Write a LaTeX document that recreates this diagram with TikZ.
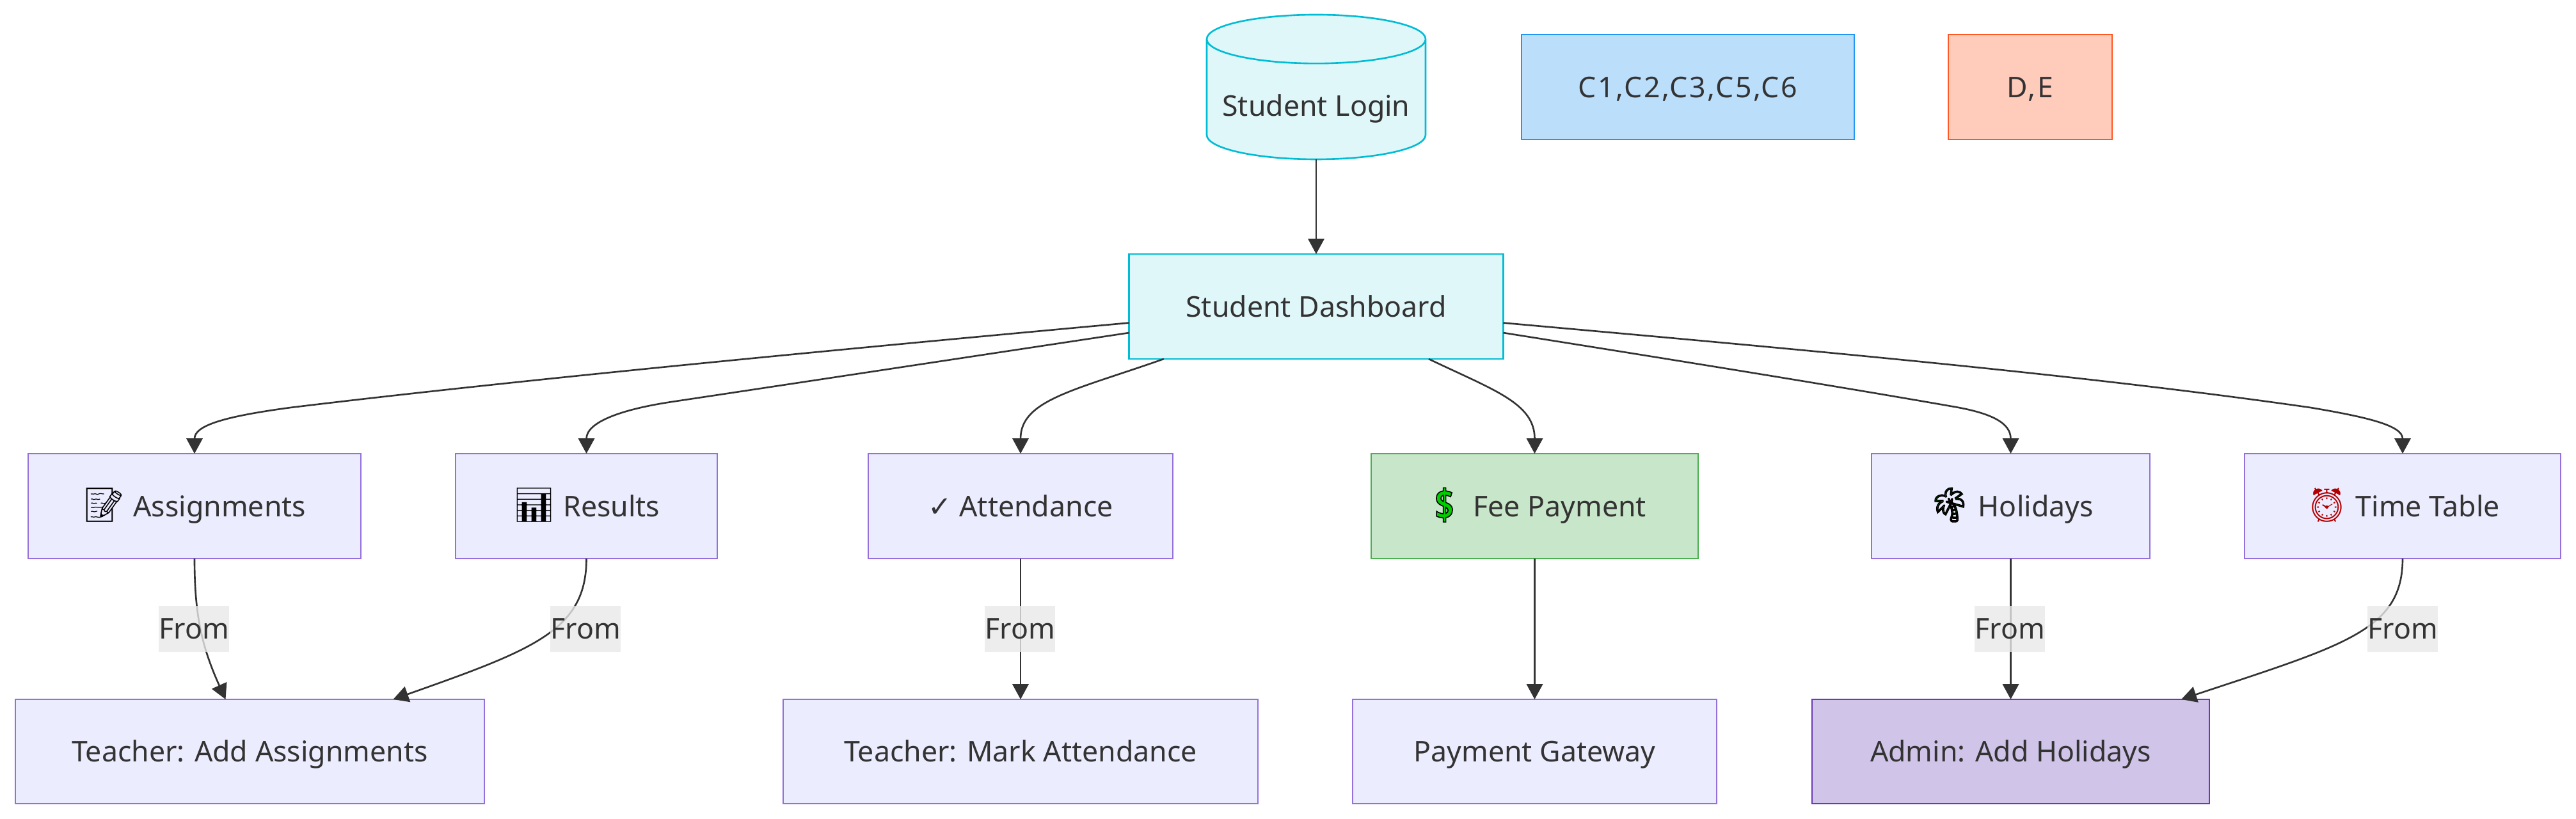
\documentclass[tikz,border=0pt]{standalone}
\usepackage{fontspec}
\setmainfont{Noto Sans}
\newfontfamily\emofont{Noto Emoji}
\newfontfamily\symfont{DejaVu Sans}
\usetikzlibrary{arrows.meta,shapes.geometric}
\definecolor{ink}{HTML}{333333}
\definecolor{chip}{HTML}{E8E8E8}
\tikzset{>={Triangle[length=6.8pt,width=7.2pt]},every node/.style={font=\fontsize{12.7}{15}\selectfont,text=ink,outer sep=0pt,inner sep=0pt},flow/.style={line width=.75pt,draw=ink,->},
 tile/.style={draw=#1!100,line width=.75pt,text height=12.2pt,text depth=3pt},
 plain/.style={tile=violet2,fill=violet1},cyan/.style={tile=cyan2,fill=cyan1},chipbox/.style={fill=chip,fill opacity=.8,text opacity=1,minimum width=1.08cm,minimum height=.72cm}}
\definecolor{violet1}{HTML}{ECECFF}\definecolor{violet2}{HTML}{9370DB}
\definecolor{cyan1}{HTML}{E0F7FA}\definecolor{cyan2}{HTML}{00BCD4}
\definecolor{blue1}{HTML}{BBDEFB}\definecolor{blue2}{HTML}{2196F3}
\definecolor{rust1}{HTML}{FFCCBC}\definecolor{rust2}{HTML}{FF5722}
\definecolor{green1}{HTML}{C8E6C9}\definecolor{green2}{HTML}{4CAF50}
\definecolor{purple1}{HTML}{D1C4E9}\definecolor{purple2}{HTML}{673AB7}
\newcommand{\emo}[2]{\textcolor{#1}{\emofont\fontsize{15}{15}\selectfont #2}}
\newcommand{\emoline}[2]{\textcolor{#1}{\special{pdf:code 2 Tr .45 w 0 0 0 RG}\emofont\fontsize{15}{15}\selectfont #2\special{pdf:code 0 Tr}}}
\begin{document}
\begin{tikzpicture}
\useasboundingbox (0,0) rectangle (40.26,-12.8);
\node[cyan,shape=cylinder,anchor=shape center,shape border rotate=90,aspect=.26,minimum width=3.42cm,minimum height=2.26cm,cylinder uses custom fill,cylinder body fill=cyan1,cylinder end fill=cyan1,text height=17.6pt] (log) at (20.57,-1.36){Student Login};
\node[tile=blue2,fill=blue1,minimum width=5.2cm,minimum height=1.64cm] (cbox) at (26.38,-1.36){\addfontfeature{LetterSpace=6}C1,C2,C3,C5,C6};
\node[tile=rust2,fill=rust1,minimum width=2.56cm,minimum height=1.64cm] (debox) at (31.73,-1.36){\addfontfeature{LetterSpace=6}D,E};
\node[cyan,minimum width=5.85cm,minimum height=1.64cm] (dash) at (20.57,-4.79){Student Dashboard};
% middle row
\node[plain,minimum width=5.2cm,minimum height=1.64cm] (ass) at (3.04,-7.91){\emo{black}{📝} Assignments};
\node[plain,minimum width=4.09cm,minimum height=1.64cm] (res) at (9.165,-7.91){\emo{black}{📊} Results};
\node[plain,minimum width=4.76cm,minimum height=1.64cm] (att) at (15.95,-7.91){{\symfont ✓} Attendance};
\node[tile=green2,fill=green1,minimum width=5.11cm,minimum height=1.64cm] (fee) at (23.985,-7.91){\emoline{green!80!black}{💲} Fee Payment};
\node[plain,minimum width=4.35cm,minimum height=1.64cm] (hol) at (31.425,-7.91){\emoline{green!60!black}{🌴} Holidays};
\node[plain,minimum width=4.94cm,minimum height=1.64cm] (tim) at (37.55,-7.91){\emo{red!70!black}{⏰} Time Table};
% bottom row
\node[plain,minimum width=7.33cm,minimum height=1.63cm] (tea) at (3.905,-11.745){Teacher: Add Assignments};
\node[plain,minimum width=7.42cm,minimum height=1.63cm] (mar) at (15.95,-11.745){Teacher: Mark Attendance};
\node[plain,minimum width=5.69cm,minimum height=1.63cm] (pay) at (23.985,-11.745){Payment Gateway};
\node[tile=purple2,fill=purple1,minimum width=6.21cm,minimum height=1.63cm] (adm) at (31.425,-11.745){Admin: Add Holidays};
\draw[flow] (log.south)--(dash.north);
\draw[flow] (dash.185) .. controls (13,-5.47) and (8,-5.95) .. (4.54,-6.37) .. controls (3.5,-6.51) and (3.04,-6.65) .. (ass.north);
\draw[flow] (dash.188) .. controls (15,-5.6) and (12.5,-5.98) .. (10.5,-6.28) .. controls (9.7,-6.4) and (9.165,-6.6) .. (res.north);
\draw[flow] (dash.199) .. controls (16.8,-6.1) and (15.95,-6.25) .. (att.north);
\draw[flow] (dash.-25) .. controls (23.35,-6.1) and (23.985,-6.3) .. (fee.north);
\draw[flow] (dash.-8) .. controls (26,-5.6) and (28.5,-6) .. (30.5,-6.35) .. controls (31.1,-6.45) and (31.425,-6.6) .. (hol.north);
\draw[flow] (dash.-5) .. controls (28,-5.45) and (32.5,-5.85) .. (36.11,-6.37) .. controls (37,-6.52) and (37.55,-6.65) .. (tim.north);
\draw[flow] (ass.south) .. controls (3.04,-9.6) and (3.15,-10.1) .. (tea.115);
\draw[flow] (res.south) .. controls (9.165,-9.85) and (8.35,-10.15) .. (tea.20);
\draw[flow] (att.south)--(mar.north);
\draw[flow] (fee.south)--(pay.north);
\draw[flow] (hol.south)--(adm.north);
\draw[flow] (tim.south) .. controls (37.55,-9.85) and (36.65,-10.08) .. (adm.17);
% edge labels sit over the lines
\node[chipbox] (lab1) at (3.03,-9.83){From};
\node[chipbox] (lab2) at (9.15,-9.83){From};
\node[chipbox] (lab3) at (15.94,-9.83){From};
\node[chipbox] (lab4) at (31.41,-9.83){From};
\node[chipbox] (lab5) at (37.55,-9.83){From};
\end{tikzpicture}
\end{document}
